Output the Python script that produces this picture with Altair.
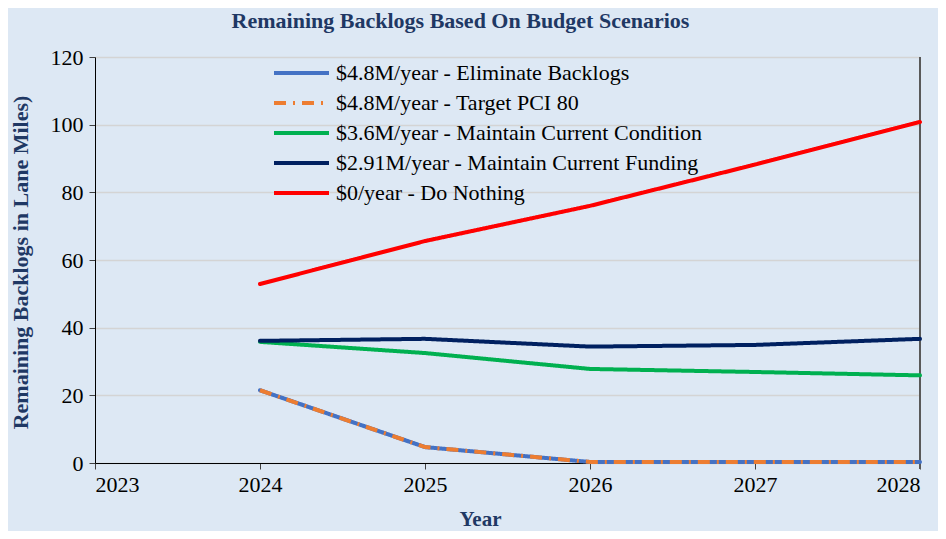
import altair as alt
import pandas as pd

years = [2024, 2025, 2026, 2027, 2028]
series_names = [
    "$4.8M/year - Eliminate Backlogs",
    "$4.8M/year - Target PCI 80",
    "$3.6M/year - Maintain Current Condition",
    "$2.91M/year - Maintain Current Funding",
    "$0/year - Do Nothing",
]
eliminate = [21.5, 4.7, 0.3, 0.3, 0.3]
target_pci = [21.5, 4.7, 0.3, 0.3, 0.3]
maintain_cond = [35.8, 32.5, 27.8, 26.9, 25.9]
maintain_fund = [36.1, 36.7, 34.4, 34.9, 36.7]
do_nothing = [52.9, 65.6, 76.0, 88.2, 100.8]
all_values = [eliminate, target_pci, maintain_cond, maintain_fund, do_nothing]

colors = ["#4472c4", "#ed7d31", "#00b050", "#002060", "#ff0000"]
dashes = [[1, 0], [12, 7, 2, 7], [1, 0], [1, 0], [1, 0]]

rows = []
for name, vals in zip(series_names, all_values):
    for y, v in zip(years, vals):
        rows.append({"Year": y, "Value": v, "Series": name})
df = pd.DataFrame(rows)

FONT = "Liberation Serif"
NAVY = "#1f3864"
FS = 22

x_enc = alt.X(
    "Year:Q",
    scale=alt.Scale(domain=[2023, 2028], nice=False, zero=False),
    axis=alt.Axis(
        values=[2023, 2024, 2025, 2026, 2027, 2028], format="d", title="Year",
        grid=False, domainColor="black", tickColor="#404040", tickSize=6,
        labelFont=FONT, labelFontSize=FS, labelColor="black", labelPadding=5,
        titleFont=FONT, titleFontSize=21, titleFontWeight="bold", titleColor=NAVY,
        titleX=385, titleY=56, titleBaseline="middle", titleAlign="center",
    ),
)
y_enc = alt.Y(
    "Value:Q",
    scale=alt.Scale(domain=[0, 120], nice=False),
    axis=alt.Axis(
        values=[0, 20, 40, 60, 80, 100, 120], title="Remaining Backlogs in Lane Miles)",
        grid=True, gridColor="#d4d4d4", gridWidth=1.5, domainColor="black",
        tickColor="#404040", tickSize=6,
        labelFont=FONT, labelFontSize=FS, labelColor="black", labelPadding=6,
        titleFont=FONT, titleFontSize=FS, titleFontWeight="bold", titleColor=NAVY,
        titleX=-75, titleY=205, titleBaseline="middle", titleAlign="center", titleAngle=-90,
    ),
)
legend_cfg = dict(
    title=None, orient="none", legendX=177, legendY=-1,
    symbolType="M-1,0H2.667", symbolSize=900, symbolStrokeWidth=4,
    labelFont=FONT, labelFontSize=FS, labelColor="black", labelOffset=30,
    rowPadding=2, labelLimit=700,
)
color_enc = alt.Color(
    "Series:N",
    scale=alt.Scale(domain=series_names, range=colors),
    legend=alt.Legend(**legend_cfg),
)
dash_enc = alt.StrokeDash(
    "Series:N",
    scale=alt.Scale(domain=series_names, range=dashes),
    legend=alt.Legend(**legend_cfg),
)

base = alt.Chart(df)
lines_main = base.transform_filter(
    alt.datum.Series != series_names[1]
).mark_line(strokeWidth=4, strokeCap="round").encode(
    x=x_enc, y=y_enc, color=color_enc, strokeDash=dash_enc,
    order=alt.Order("Year:Q"),
)
lines_orange = base.transform_filter(
    alt.datum.Series == series_names[1]
).mark_line(strokeWidth=4, strokeCap="butt").encode(
    x=x_enc, y=y_enc, color=color_enc, strokeDash=dash_enc,
    order=alt.Order("Year:Q"),
)
right_border = alt.Chart(pd.DataFrame({"x": [2028]})).mark_rule(
    color="#595959", strokeWidth=2
).encode(x=alt.X("x:Q"), y=alt.value(0), y2=alt.value(412))

chart = alt.layer(right_border, lines_main, lines_orange).properties(
    width=825, height=406,
    padding={"left": 87, "top": 49, "right": 18, "bottom": 68},
    autosize=alt.AutoSizeParams(type="none"),
    background="#dde8f4",
    title=alt.TitleParams(
        "Remaining Backlogs Based On Budget Scenarios",
        font=FONT, fontSize=22, fontWeight="bold", color=NAVY,
        anchor="middle", dx=-47, offset=13,
    ),
).configure_view(stroke=None).resolve_scale(color="shared", strokeDash="shared")

chart.save("out.html", embed_options={"renderer": "svg", "actions": False})
